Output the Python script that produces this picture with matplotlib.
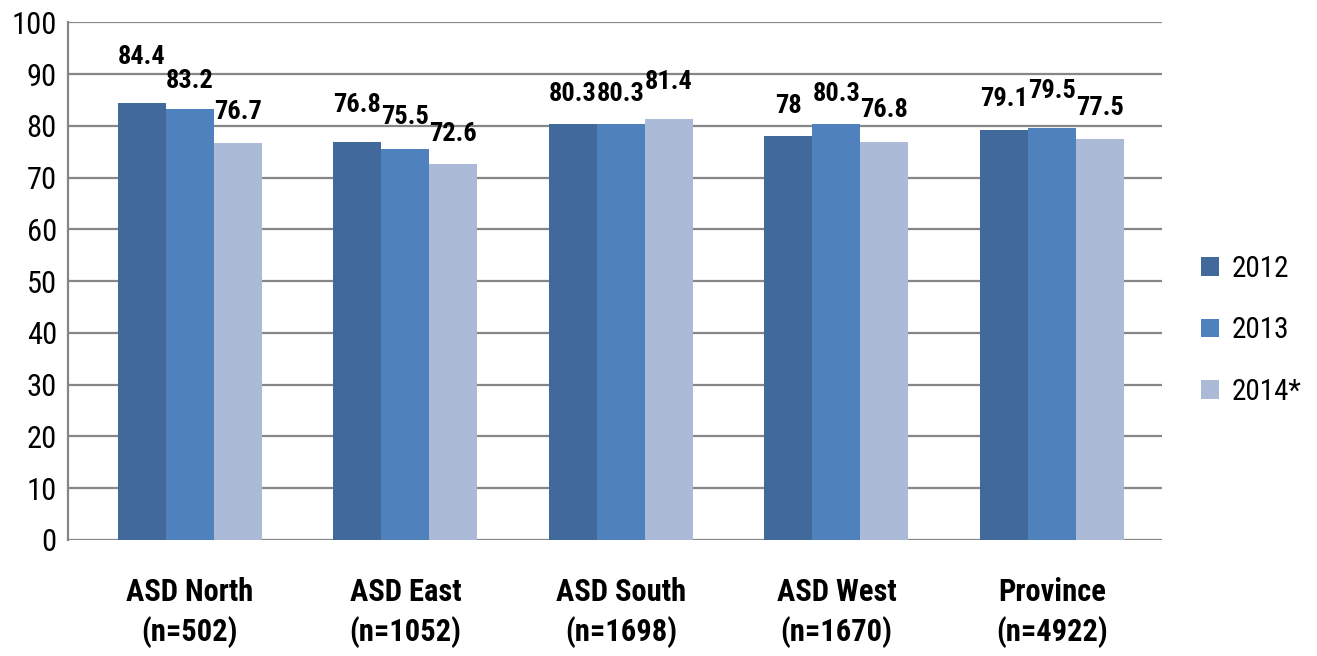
import numpy as np
import matplotlib.pyplot as plt
from matplotlib import font_manager

# ---------------- data ----------------
categories = ["ASD North\n(n=502)", "ASD East\n(n=1052)", "ASD South\n(n=1698)",
              "ASD West\n(n=1670)", "Province\n(n=4922)"]
years = ["2012", "2013", "2014*"]
v2012 = [84.4, 76.8, 80.3, 78, 79.1]
v2013 = [83.2, 75.5, 80.3, 80.3, 79.5]
v2014 = [76.7, 72.6, 81.4, 76.8, 77.5]

colors = ["#41699B", "#4F81BD", "#AABAD7"]
# label offsets (points from bar top to label centre), one row per year
label_off = [[33, 27, 22, 22, 23],
             [20, 23, 22, 22, 27],
             [22, 22, 26, 23, 22]]

names = {f.name for f in font_manager.fontManager.ttflist}
fam = "DejaVu Sans"
for cand in ["Liberation Sans Narrow", "Roboto Condensed", "Open Sans Condensed", "Lato"]:
    if cand in names:
        fam = cand
        break
plt.rcParams["font.family"] = [fam, "DejaVu Sans"]

fig = plt.figure(figsize=(13.17, 6.56), dpi=100)
ax = fig.add_axes([0.0516, 0.177, 0.8306, 0.789])

x = np.arange(len(categories))
w = 0.2227
series = [v2012, v2013, v2014]
for i, vals in enumerate(series):
    xs = x + (i - 1) * w
    ax.bar(xs, vals, w, color=colors[i], label=years[i], zorder=3)
    for xi, v, off in zip(xs, vals, label_off[i]):
        ax.annotate(f"{v:g}", (xi, v), xytext=(0, off), textcoords="offset points",
                    ha="center", va="center", fontsize=19, fontweight="bold", zorder=4)

ax.set_xlim(-0.566, 4.51)
ax.set_ylim(0, 100)
ax.set_yticks(range(0, 101, 10))
ax.yaxis.grid(True, color="#868686", linewidth=1.6, zorder=0)
ax.set_xticks(x)
ax.set_xticklabels(categories, fontsize=22, fontweight="bold", linespacing=1.35)
ax.tick_params(axis="x", length=0, pad=27)
ax.tick_params(axis="y", length=0, labelsize=22, pad=8)
for s in ["top", "right", "bottom"]:
    ax.spines[s].set_visible(False)
ax.spines["left"].set_color("#868686")
ax.spines["left"].set_linewidth(1.6)

ax.legend(loc="center left", bbox_to_anchor=(1.025, 0.405), frameon=False,
          fontsize=21, handlelength=0.62, handleheight=0.62, labelspacing=1.15,
          handletextpad=0.45, borderaxespad=0)

fig.savefig("out.png", dpi=100)
